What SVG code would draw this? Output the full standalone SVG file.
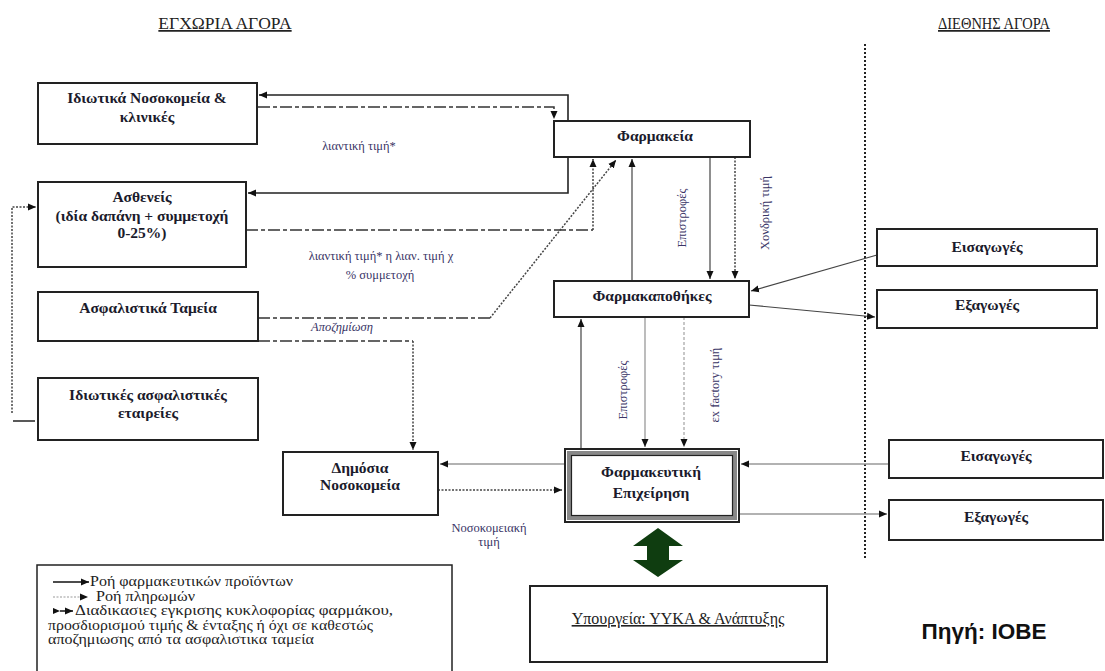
<svg xmlns="http://www.w3.org/2000/svg" width="1105" height="671" viewBox="0 0 1105 671">
<style>
.box{fill:#fff;stroke:#222;stroke-width:2}
.bt{font-family:"Liberation Serif",serif;font-weight:bold;font-size:15.5px;fill:#1b1b2c;text-anchor:middle}
.hd{font-family:"Liberation Serif",serif;font-size:17.5px;fill:#222;text-anchor:middle;text-decoration:underline}
.lb{font-family:"Liberation Serif",serif;font-size:12.5px;fill:#3a3566;text-anchor:middle}
.lg{font-family:"Liberation Serif",serif;font-size:14px;fill:#222}
.sol{fill:none;stroke:#222;stroke-width:1.6}
.thin{fill:none;stroke:#444;stroke-width:1.2}
.gry{fill:none;stroke:#999;stroke-width:1.3}
.dd{fill:none;stroke:#333;stroke-width:1.5;stroke-dasharray:12 3 4 3}
.dot{fill:none;stroke:#444;stroke-width:1.5;stroke-dasharray:2 1.5}
.ldot{fill:none;stroke:#aaa;stroke-width:1.3;stroke-dasharray:3 2}
</style>
<defs>
<marker id="ah" viewBox="0 0 8 8" refX="8" refY="4" markerWidth="8" markerHeight="8" orient="auto" markerUnits="userSpaceOnUse"><path d="M0,0.5 L8,4 L0,7.5 z" fill="#111"/></marker>
<marker id="ahs" viewBox="0 0 8 8" refX="0" refY="4" markerWidth="7" markerHeight="7" orient="auto-start-reverse" markerUnits="userSpaceOnUse"><path d="M8,0.5 L0,4 L8,7.5 z" fill="#111"/></marker>
</defs>
<rect width="1105" height="671" fill="#fff"/>

<text class="hd" x="225" y="29">ΕΓΧΩΡΙΑ ΑΓΟΡΑ</text>
<text class="hd" x="994" y="29" textLength="112" lengthAdjust="spacingAndGlyphs">ΔΙΕΘΝΗΣ ΑΓΟΡΑ</text>
<line x1="865" y1="44" x2="865" y2="560" stroke="#222" stroke-width="2" stroke-dasharray="2 2"/>

<g id="connectors">
<path class="sol" d="M568,121 V95 H259" marker-end="url(#ah)"/>
<path class="sol" d="M568,157 V193 H248" marker-end="url(#ah)"/>
<path class="dd" d="M258,107 H554 V119" marker-end="url(#ah)"/>
<path class="dd" d="M246,230 H593"/>
<path class="dot" d="M593,230 V159" marker-end="url(#ah)"/>
<path class="dd" d="M258,318 H490"/>
<path class="dot" d="M490,318 L616,160" marker-end="url(#ah)"/>
<path class="dd" d="M258,341 H413"/>
<path class="dot" d="M413,341 V450" marker-end="url(#ah)"/>
<path class="dot" d="M12,413 V207 H36" marker-end="url(#ah)"/>
<line x1="13" y1="421" x2="35" y2="421" stroke="#222" stroke-width="1.5"/>
<path class="thin" d="M632,281 V159" marker-end="url(#ah)"/>
<path class="thin" d="M710,157 V279" marker-end="url(#ah)"/>
<path class="dot" d="M735,157 V279" marker-end="url(#ah)"/>
<path class="thin" d="M877,255 L751,291" marker-end="url(#ah)"/>
<path class="thin" d="M749,305 L875,317" marker-end="url(#ah)"/>
<path class="thin" d="M581,449 V319" marker-end="url(#ah)"/>
<path class="gry" d="M645,317 V447" marker-end="url(#ah)"/>
<path class="ldot" d="M684,317 V447" marker-end="url(#ah)"/>
<path class="gry" d="M564,464 H440" marker-end="url(#ah)"/>
<path class="dot" d="M438,490 H562" marker-end="url(#ah)"/>
<path class="gry" d="M889,464 H741" marker-end="url(#ah)"/>
<path class="gry" d="M739,514 H887" marker-end="url(#ah)"/>
<polygon points="658,528 683,546 669,546 669,560 683,560 658,577 633,560 647,560 647,546 633,546" fill="#0f3d10"/>
</g>

<text class="lb" x="359" y="150">λιαντική τιμή*</text>
<text class="lb" x="381" y="260">λιαντική τιμή* η λιαν. τιμή χ</text>
<text class="lb" x="380" y="279">% συμμετοχή</text>
<text class="lb" x="342" y="331" font-style="italic">Αποζημίωση</text>
<text class="lb" x="489" y="532">Νοσοκομειακή</text>
<text class="lb" x="489" y="546">τιμή</text>
<text class="lb" transform="translate(686,218) rotate(-90)">Επιστροφές</text>
<text class="lb" transform="translate(769,213) rotate(-90)">Χονδρική τιμή</text>
<text class="lb" transform="translate(627,390) rotate(-90)">Επιστροφές</text>
<text class="lb" transform="translate(719,385) rotate(-90)">εx factory τιμή</text>

<g id="n-idiotika-nosokomeia"><rect class="box" x="38" y="83" width="219" height="61"/><text class="bt" x="147" y="103">Ιδιωτικά Νοσοκομεία &amp;</text><text class="bt" x="147" y="122">κλινικές</text></g>
<g id="n-astheneis"><rect class="box" x="38" y="182" width="208" height="85"/><text class="bt" x="142" y="202">Ασθενείς</text><text class="bt" x="142" y="221">(ιδία δαπάνη + συμμετοχή</text><text class="bt" x="142" y="238">0-25%)</text></g>
<g id="n-asfalistika-tameia"><rect class="box" x="38" y="292" width="220" height="49"/><text class="bt" x="148" y="313">Ασφαλιστικά Ταμεία</text></g>
<g id="n-idiotikes-asfalistikes"><rect class="box" x="38" y="378" width="220" height="62"/><text class="bt" x="148" y="400">Ιδιωτικές ασφαλιστικές</text><text class="bt" x="148" y="418">εταιρείες</text></g>
<g id="n-farmakeia"><rect class="box" x="554" y="121" width="196" height="36"/><text class="bt" x="655" y="141">Φαρμακεία</text></g>
<g id="n-farmakapothikes"><rect class="box" x="554" y="281" width="195" height="36"/><text class="bt" x="652" y="301">Φαρμακαποθήκες</text></g>
<g id="n-dimosia-nosokomeia"><rect class="box" x="283" y="452" width="155" height="63"/><text class="bt" x="360" y="473">Δημόσια</text><text class="bt" x="360" y="490">Νοσοκομεία</text></g>
<g id="n-farmakeftiki"><rect x="565" y="449" width="174" height="73" fill="#fff" stroke="#222" stroke-width="2"/><rect x="569" y="453" width="166" height="65" fill="none" stroke="#888" stroke-width="4"/><rect x="571.5" y="455.5" width="161" height="60" fill="none" stroke="#222" stroke-width="1.2"/><text class="bt" x="651" y="477">Φαρμακευτική</text><text class="bt" x="651" y="498">Επιχείρηση</text></g>
<g id="n-eisagoges-1"><rect class="box" x="877" y="229" width="220" height="37"/><text class="bt" x="987" y="252">Εισαγωγές</text></g>
<g id="n-exagoges-1"><rect class="box" x="877" y="290" width="220" height="38"/><text class="bt" x="987" y="310">Εξαγωγές</text></g>
<g id="n-eisagoges-2"><rect class="box" x="889" y="440" width="214" height="38"/><text class="bt" x="996" y="461">Εισαγωγές</text></g>
<g id="n-exagoges-2"><rect class="box" x="889" y="500" width="214" height="40"/><text class="bt" x="996" y="522">Εξαγωγές</text></g>
<g id="n-ypourgeia"><rect class="box" x="530" y="586" width="297" height="76"/><text x="678" y="624" font-family="Liberation Serif, serif" font-size="16" fill="#222" text-anchor="middle" text-decoration="underline">Υπουργεία: ΥΥΚΑ &amp; Ανάπτυξης</text></g>

<g id="legend">
<rect x="37" y="565" width="415" height="120" fill="#fff" stroke="#222" stroke-width="1.5"/>
<line x1="53" y1="582" x2="89" y2="582" stroke="#111" stroke-width="1.5" marker-end="url(#ah)"/>
<line x1="53" y1="597" x2="88" y2="597" stroke="#999" stroke-width="1.2" stroke-dasharray="2 1.5" marker-end="url(#ah)"/>
<line x1="60" y1="611" x2="73" y2="611" stroke="#111" stroke-width="1.5" marker-start="url(#ahs)" marker-end="url(#ah)"/>
<text class="lg" x="90" y="586" textLength="203" lengthAdjust="spacingAndGlyphs">Ροή φαρμακευτικών προϊόντων</text>
<text class="lg" x="96" y="600.5" textLength="99" lengthAdjust="spacingAndGlyphs">Ροή πληρωμών</text>
<text class="lg" x="75" y="615" textLength="318" lengthAdjust="spacingAndGlyphs">Διαδικασιες εγκρισης κυκλοφορίας φαρμάκου,</text>
<text class="lg" x="48" y="629.5" textLength="325" lengthAdjust="spacingAndGlyphs">προσδιορισμού τιμής &amp; ένταξης ή όχι σε καθεστώς</text>
<text class="lg" x="48" y="644" textLength="266" lengthAdjust="spacingAndGlyphs">αποζημιωσης από τα ασφαλιστικα ταμεία</text>
</g>

<text x="984" y="639" font-family="Liberation Sans, sans-serif" font-size="22.5" font-weight="bold" fill="#111" text-anchor="middle">Πηγή: ΙΟΒΕ</text>
</svg>
